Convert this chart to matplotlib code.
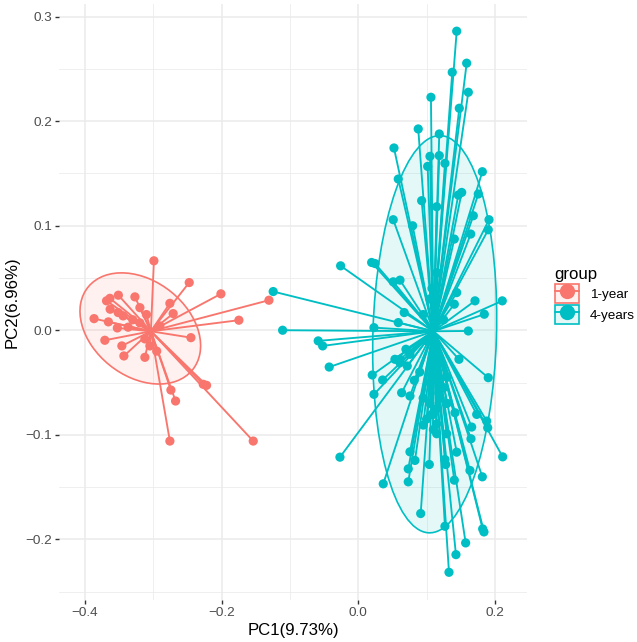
import numpy as np
import matplotlib.pyplot as plt
from matplotlib.patches import Ellipse, Patch
from matplotlib.lines import Line2D

plt.rcParams['font.family'] = ['Liberation Sans', 'DejaVu Sans']

# group names and colours (ggplot default hues)
groups = ['1-year', '4-years']
colors = ['#F8766D', '#00BFC4']

# PCA scores
pc1_1y = [-0.2991, -0.2474, -0.2010, -0.1307, -0.1747, -0.2449, -0.2757, -0.2709,
          -0.3196, -0.3269, -0.3511, -0.3635, -0.3684, -0.3631, -0.3514, -0.3441,
          -0.3867, -0.3657, -0.3526, -0.3368, -0.3709, -0.3460, -0.3430, -0.3123,
          -0.2269, -0.2220, -0.2742, -0.2674, -0.2757, -0.1537,
          -0.3196, -0.3123, -0.2903, -0.3050, -0.3300, -0.2950, -0.3100]
pc2_1y = [0.0664, 0.0456, 0.0348, 0.0287, 0.0096, -0.0071, 0.0257, 0.0159,
          0.0216, 0.0319, 0.0335, 0.0305, 0.0281, 0.0201, 0.0169, 0.0137,
          0.0111, 0.0080, 0.0022, 0.0029, -0.0096, -0.0150, -0.0246, -0.0259,
          -0.0517, -0.0527, -0.0572, -0.0677, -0.1060, -0.1060,
          0.0070, -0.0083, 0.0041, -0.0150, 0.0100, -0.0200, 0.0150]

pc1_4y = [0.1441, 0.1587, 0.1376, 0.1611, 0.1479, 0.1064, 0.0878, 0.1186, 0.0523,
          0.1050, 0.1186, 0.1016, 0.1269, 0.1816, 0.0586, 0.1757, 0.1514, 0.1464,
          0.0928, 0.1148, 0.0512, 0.0796, 0.1914, 0.1903, 0.1684, 0.1646, 0.1406,
          0.0245, 0.0196, -0.0258, 0.0611, 0.0512, 0.1441, 0.1406, 0.1709, 0.2108,
          0.1845, 0.0673, 0.0586, 0.0230, 0.1611,
          -0.1245, -0.1107, -0.0586, -0.0521, -0.0425, -0.0268,
          0.0366, 0.0205, 0.0230, 0.0357, 0.0635, 0.0757, 0.0698, 0.0611, 0.0717,
          0.0820, 0.1903, 0.1474, 0.2114, 0.1880, 0.1895, 0.1734, 0.1660, 0.1650,
          0.1635, 0.1816, 0.1441, 0.1406, 0.1269, 0.1280, 0.1148, 0.1294, 0.1040,
          0.0830, 0.0757, 0.0732, 0.0732, 0.0914, 0.1269, 0.1821, 0.1840, 0.1572,
          0.1430, 0.1328, 0.1148, 0.1075, 0.0952, 0.1098, 0.1416,
          0.1000, 0.1200, 0.0950, 0.1250, 0.1050, 0.1180, 0.0900, 0.1300,
          0.0757, 0.0537, 0.0611, 0.1050, 0.1150, 0.1200, 0.1000, 0.1250,
          0.1100, 0.0950, 0.1300, 0.1080, 0.1150, 0.1050]
pc2_4y = [0.2860, 0.2554, 0.2467, 0.2276, 0.2123, 0.2228, 0.1925, 0.1877, 0.1743,
          0.1663, 0.1670, 0.1567, 0.1596, 0.1516, 0.1446, 0.1303, 0.1318, 0.1293,
          0.1239, 0.1181, 0.1057, 0.0999, 0.1057, 0.0961, 0.1095, 0.0920, 0.0872,
          0.0638, 0.0648, 0.0616, 0.0479, 0.0463, 0.0360, 0.0249, 0.0281, 0.0281,
          0.0153, 0.0169, 0.0073, 0.0025, -0.0007,
          0.0370, 0.0000, -0.0102, -0.0150, -0.0352, -0.1214,
          -0.1469, -0.0428, -0.0613, -0.0476, -0.0598, -0.0629, -0.0182, -0.0278, -0.0342,
          -0.0479, -0.0454, -0.0278, -0.1211, -0.0869, -0.0933, -0.0805, -0.0926, -0.1038,
          -0.1341, -0.1402, -0.1166, -0.1434, -0.1236, -0.1284, -0.0990, -0.0990, -0.1284,
          -0.1245, -0.1163, -0.1326, -0.1450, -0.1753, -0.1875, -0.1900, -0.1929, -0.2034,
          -0.2146, -0.2315, -0.0895, -0.0805, -0.0907, -0.0805, -0.0789,
          -0.0100, -0.0300, 0.0150, 0.0100, -0.0500, -0.0600, -0.0400, -0.0450,
          -0.0230, -0.0278, -0.0310, -0.0700, -0.0750, -0.0650, -0.0850, -0.0550,
          -0.0950, -0.0650, -0.0700, 0.0400, 0.0550, 0.0300]

# group centroids (spider centres)
cent_x = [-0.3035, 0.110]
cent_y = [-0.001, -0.001]

# 95% ellipses: centre, width, height, angle
ell_cx = [-0.3190, 0.1119]
ell_cy = [0.0017, -0.0038]
ell_w = [0.1810, 0.3803]
ell_h = [0.0986, 0.1808]
ell_ang = [-15.2, 87.1]

xs = [pc1_1y, pc1_4y]
ys = [pc2_1y, pc2_4y]

fig = plt.figure(figsize=(6.37, 6.42), dpi=100)
ax = fig.add_axes([59/637, 42/642, 468/637, 596/642])

for i in range(2):
    ax.add_patch(Ellipse((ell_cx[i], ell_cy[i]), ell_w[i], ell_h[i], angle=ell_ang[i],
                         facecolor=colors[i], alpha=0.1, edgecolor='none', zorder=1))
    ax.add_patch(Ellipse((ell_cx[i], ell_cy[i]), ell_w[i], ell_h[i], angle=ell_ang[i],
                         facecolor='none', edgecolor=colors[i], lw=1.2, zorder=2))
    for px, py in zip(xs[i], ys[i]):
        ax.plot([cent_x[i], px], [cent_y[i], py], color=colors[i], lw=1.35,
                solid_capstyle='butt', zorder=3)
    ax.scatter(xs[i], ys[i], s=44, color=colors[i], edgecolors='none', zorder=4)

ax.set_xlim(-0.438, 0.247)
ax.set_ylim(-0.258, 0.312)
ax.set_xticks([-0.4, -0.2, 0.0, 0.2])
ax.set_yticks([-0.2, -0.1, 0.0, 0.1, 0.2, 0.3])
ax.set_xticks([-0.3, -0.1, 0.1], minor=True)
ax.set_yticks([-0.25, -0.15, -0.05, 0.05, 0.15, 0.25], minor=True)
ax.grid(which='major', color='#EBEBEB', lw=1.1, zorder=0)
ax.grid(which='minor', color='#EBEBEB', lw=0.55, zorder=0)
ax.set_axisbelow(True)
for s in ax.spines.values():
    s.set_visible(False)
ax.tick_params(which='major', length=3, width=1.0, color='#333333',
               labelcolor='#4D4D4D', labelsize=9.7, pad=2)
ax.tick_params(which='minor', length=0)

ax.set_xlabel('PC1(9.73%)', fontsize=12.1, labelpad=3)
ax.set_ylabel('PC2(6.96%)', fontsize=12.1, labelpad=4)

handles = []
for i in range(2):
    box = Patch(facecolor=colors[i] + '1A', edgecolor=colors[i], lw=1.2)
    pt = Line2D([], [], color=colors[i], lw=1.35, marker='o', markersize=11,
                markeredgewidth=0)
    handles.append((box, pt))
leg = fig.legend(handles, groups, loc='upper left', bbox_to_anchor=(548/637, 1 - 260/642),
                 frameon=False, title='group', fontsize=9.7, title_fontsize=12.1,
                 handlelength=1.8, handleheight=1.8, labelspacing=0.15,
                 handletextpad=0.8, borderpad=0, alignment='left')

fig.savefig('out.png', dpi=100)
